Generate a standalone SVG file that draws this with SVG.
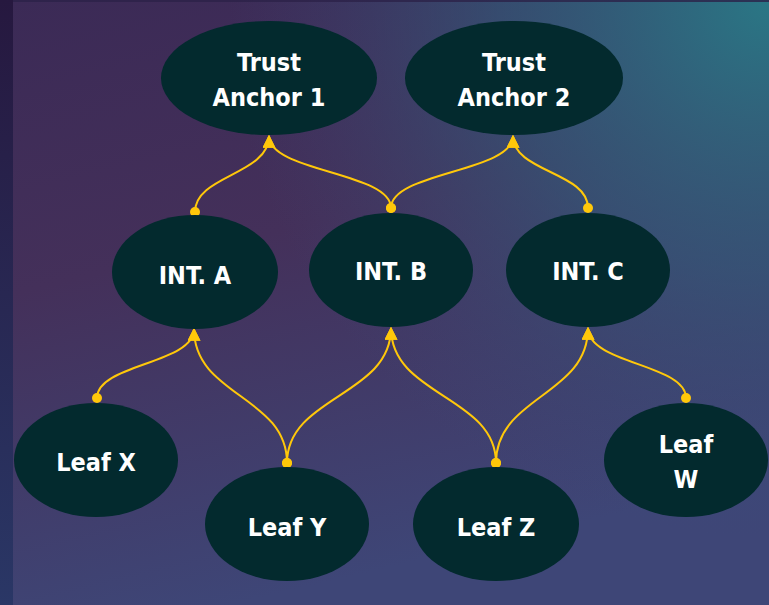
<svg xmlns="http://www.w3.org/2000/svg" width="769" height="605" viewBox="0 0 769 605">
<defs>
<linearGradient id="bg" x1="0" y1="0" x2="0.3" y2="1">
<stop offset="0" stop-color="#3b2a56"/>
<stop offset="0.45" stop-color="#44305a"/>
<stop offset="1" stop-color="#3e4677"/>
</linearGradient>
<radialGradient id="teal" cx="769" cy="0" r="540" gradientUnits="userSpaceOnUse">
<stop offset="0" stop-color="#2a7785" stop-opacity="1"/>
<stop offset="0.5" stop-color="#30607e" stop-opacity="0.6"/>
<stop offset="1" stop-color="#3a4a78" stop-opacity="0"/>
</radialGradient>
<linearGradient id="side" x1="0" y1="0" x2="0" y2="1">
<stop offset="0" stop-color="#26183f"/>
<stop offset="1" stop-color="#2a3766"/>
</linearGradient>
<marker id="arr" viewBox="0 0 10 10" refX="9" refY="5" markerWidth="13" markerHeight="13" markerUnits="userSpaceOnUse" orient="auto">
<path d="M0,0 L10,5 L0,10 Z" fill="#ffc80a"/>
</marker>
<marker id="dot" viewBox="0 0 10 10" refX="5" refY="5" markerWidth="10" markerHeight="10" markerUnits="userSpaceOnUse">
<circle cx="5" cy="5" r="5" fill="#ffc80a"/>
</marker>
</defs>
<style>
.n ellipse{fill:#032a2e}
.n text{fill:#ffffff;font-family:"DejaVu Sans Condensed","DejaVu Sans",sans-serif;font-stretch:condensed;font-weight:bold;font-size:25px;text-anchor:middle}
.e path{fill:none;stroke:#ffc80a;stroke-width:2;marker-start:url(#dot);marker-end:url(#arr)}
</style>
<rect x="0" y="0" width="769" height="605" fill="url(#bg)"/>
<rect x="0" y="0" width="769" height="605" fill="url(#teal)"/>
<rect x="0" y="0" width="13" height="605" fill="url(#side)"/>
<rect x="13" y="0" width="756" height="2" fill="#2c2248" opacity="0.8"/>
<g class="e">
<path d="M195,212 C195,175 269,175 269,136"/>
<path d="M391,208 C391,172 269,172 269,136"/>
<path d="M391,208 C391,172 513,172 513,136"/>
<path d="M588,208 C588,172 513,172 513,136"/>
<path d="M97,398 C97,364 194,364 194,329"/>
<path d="M287,463 C287,396 194,396 194,329"/>
<path d="M287,463 C287,396 391,396 391,328"/>
<path d="M496,463 C496,396 391,396 391,328"/>
<path d="M496,463 C496,396 588,396 588,328"/>
<path d="M686,398 C686,364 588,364 588,328"/>
</g>
<g id="ta1" class="n"><ellipse cx="269" cy="78" rx="108" ry="57"/><text x="269" y="71">Trust</text><text x="269" y="106">Anchor 1</text></g>
<g id="ta2" class="n"><ellipse cx="514" cy="78" rx="109" ry="57"/><text x="514" y="71">Trust</text><text x="514" y="106">Anchor 2</text></g>
<g id="inta" class="n"><ellipse cx="195" cy="272" rx="83" ry="57"/><text x="195" y="284">INT. A</text></g>
<g id="intb" class="n"><ellipse cx="391" cy="270" rx="82" ry="57"/><text x="391" y="280">INT. B</text></g>
<g id="intc" class="n"><ellipse cx="588" cy="270" rx="82" ry="57"/><text x="588" y="280">INT. C</text></g>
<g id="leafx" class="n"><ellipse cx="96" cy="460" rx="82" ry="57"/><text x="96" y="471">Leaf X</text></g>
<g id="leafy" class="n"><ellipse cx="287" cy="524" rx="82" ry="57"/><text x="287" y="536">Leaf Y</text></g>
<g id="leafz" class="n"><ellipse cx="496" cy="524" rx="83" ry="57"/><text x="496" y="536">Leaf Z</text></g>
<g id="leafw" class="n"><ellipse cx="686" cy="460" rx="82" ry="57"/><text x="686" y="453">Leaf</text><text x="686" y="488">W</text></g>
</svg>
